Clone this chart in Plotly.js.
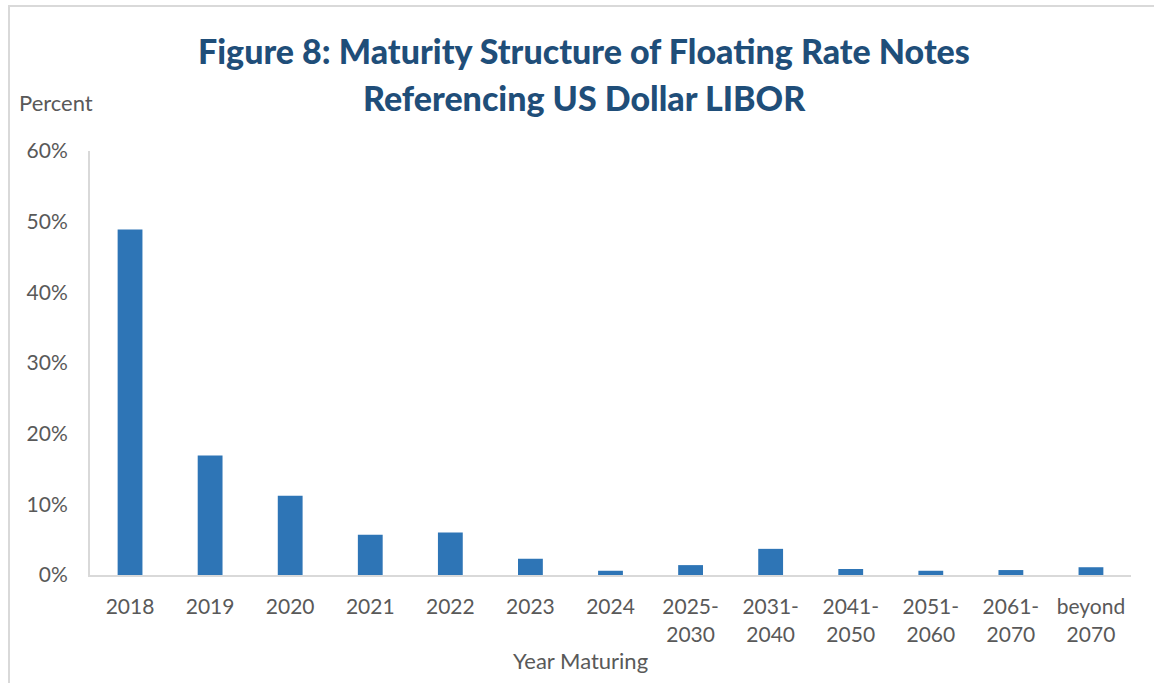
<!DOCTYPE html>
<html>
<head>
<meta charset="utf-8">
<script src="https://cdn.plot.ly/plotly-3.0.1.min.js"></script>
<style>
  html, body { margin: 0; padding: 0; background: #fff; overflow: hidden; }
  #frame { position: absolute; left: 8px; top: 5px; width: 1200px; height: 720px;
           border-left: 2px solid #d9d9d9; border-top: 2px solid #d9d9d9; pointer-events: none; z-index: 5; }
  #chart { position: absolute; left: 0; top: 0; width: 1154px; height: 683px; }
</style>
</head>
<body>
<div id="chart"></div>
<div id="frame"></div>
<script>
const categories = ["2018", "2019", "2020", "2021", "2022", "2023", "2024",
  "2025-<br>2030", "2031-<br>2040", "2041-<br>2050", "2051-<br>2060", "2061-<br>2070", "beyond<br>2070"];
const shares = [48.9, 16.9, 11.2, 5.7, 6.0, 2.3, 0.6, 1.4, 3.7, 0.85, 0.6, 0.7, 1.1];
const yTicks = [0, 10, 20, 30, 40, 50, 60];
const yTickLabels = ["0%", "10%", "20%", "30%", "40%", "50%", "60%"];
const titleLine1 = "Figure 8: Maturity Structure of Floating Rate Notes";
const titleLine2 = "Referencing US Dollar LIBOR";
const xTitle = "Year Maturing";

const font = "Lato, 'Open Sans', sans-serif";
const gray = "#595959";
const titleFont = { family: font, size: 34, color: "#1F4E79", weight: 900 };

Plotly.newPlot("chart", [{
  type: "bar",
  x: categories,
  y: shares,
  marker: { color: "#2E75B6" },
  hoverinfo: "x+y"
}], {
  width: 1154, height: 683,
  margin: { l: 90, r: 23, t: 151, b: 108 },
  paper_bgcolor: "#fff", plot_bgcolor: "#fff",
  bargap: 0.69,
  showlegend: false,
  font: { family: font, color: gray, size: 21 },
  xaxis: {
    type: "category",
    showline: true, linecolor: "#d9d9d9", linewidth: 2,
    showgrid: false, ticks: "", ticklabelstandoff: 12,
    tickfont: { family: font, size: 21, color: gray },
    automargin: false
  },
  yaxis: {
    range: [0, 60], tickmode: "array", tickvals: yTicks, ticktext: yTickLabels,
    showline: true, linecolor: "#d9d9d9", linewidth: 2,
    showgrid: false, zeroline: false, ticks: "", ticklabelstandoff: 16,
    tickfont: { family: font, size: 21, color: gray },
    automargin: false
  },
  annotations: [
    { text: titleLine1, xref: "paper", yref: "paper", x: 0.475, y: 1, yshift: 101, showarrow: false,
      xanchor: "center", yanchor: "middle", font: titleFont },
    { text: titleLine2, xref: "paper", yref: "paper", x: 0.475, y: 1, yshift: 54, showarrow: false,
      xanchor: "center", yanchor: "middle", font: titleFont },
    { text: "Percent", xref: "paper", yref: "paper", x: 0, xshift: -73, y: 1, yshift: 49, showarrow: false,
      xanchor: "left", yanchor: "middle", font: { family: font, size: 22, color: gray } },
    { text: xTitle, xref: "paper", yref: "paper", x: 0.471, y: 0, yshift: -85, showarrow: false,
      xanchor: "center", yanchor: "middle", font: { family: font, size: 22, color: gray } }
  ]
}, { staticPlot: true });
</script>
</body>
</html>
